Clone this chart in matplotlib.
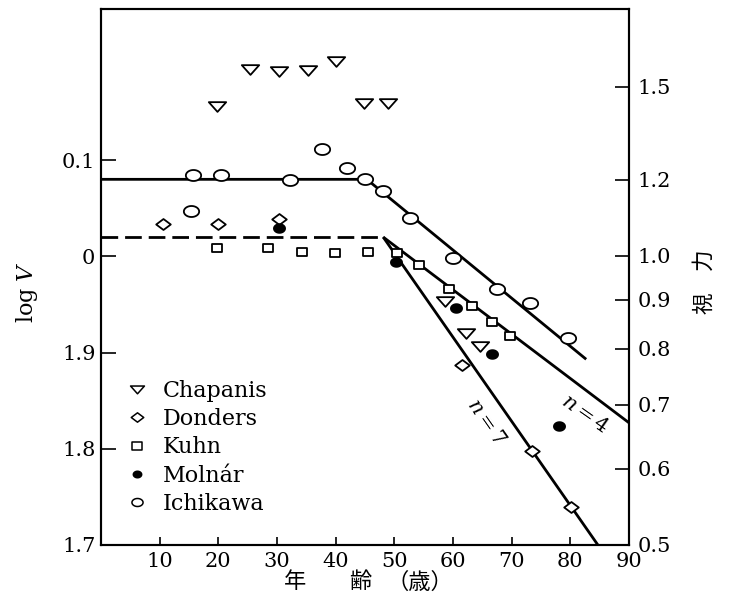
import numpy as np
import matplotlib
matplotlib.use("Agg")
import matplotlib.pyplot as plt
from matplotlib.path import Path
from matplotlib.lines import Line2D

plt.rcParams['font.family'] = ['DejaVu Serif']
plt.rcParams['mathtext.fontset'] = 'dejavuserif'

# Measured visual acuity (log V) against age for each study
chapanis_age = [19.8, 25.4, 30.3, 35.3, 40.1, 44.8, 48.9, 58.6, 62.2, 64.6]
chapanis_logv = [0.156, 0.195, 0.193, 0.194, 0.203, 0.159, 0.159, -0.046, -0.080, -0.093]
donders_age = [10.6, 19.9, 30.3, 61.5, 73.5, 80.1]
donders_logv = [0.034, 0.034, 0.039, -0.113, -0.202, -0.261]
kuhn_age = [19.8, 28.5, 34.3, 39.9, 45.5, 50.5, 54.2, 59.3, 63.2, 66.6, 69.7]
kuhn_logv = [0.009, 0.009, 0.004, 0.003, 0.004, 0.003, -0.009, -0.034, -0.052, -0.068, -0.083]
molnar_age = [30.3, 50.3, 60.5, 66.6, 78.1]
molnar_logv = [0.029, -0.006, -0.054, -0.101, -0.176]
ichikawa_age = [15.3, 15.7, 20.5, 32.2, 37.7, 41.9, 45.0, 48.1, 52.7, 60.0, 67.5, 73.1, 79.6]
ichikawa_logv = [0.047, 0.085, 0.084, 0.079, 0.111, 0.092, 0.080, 0.068, 0.040, -0.002, -0.034,
                 -0.048, -0.085]

# Fitted broken lines (age, log V)
ichikawa_fit_age = [0, 45.3, 82.7]
ichikawa_fit_logv = [0.080, 0.080, -0.107]
plateau_age = [0, 48.1]
plateau_logv = [0.020, 0.020]
n4_age = [48.1, 90]
n4_logv = [0.020, -0.173]
n7_age = [48.1, 84.7]
n7_logv = [0.020, -0.300]

# Axis ticks
age_ticks = [10, 20, 30, 40, 50, 60, 70, 80, 90]
age_labels = ["10", "20", "30", "40", "50", "60", "70", "80", "90"]
logv_ticks = [-0.3, -0.2, -0.1, 0.0, 0.1]
logv_labels = ["1.7", "1.8", "1.9", "0", "0.1"]
acuity_ticks = [0.5, 0.6, 0.7, 0.8, 0.9, 1.0, 1.2, 1.5]
acuity_labels = ["0.5", "0.6", "0.7", "0.8", "0.9", "1.0", "1.2", "1.5"]

series_names = ["Chapanis", "Donders", "Kuhn", "Molnár", "Ichikawa"]


def closed_marker(verts):
    verts = np.asarray(verts, dtype=float)
    return Path(np.vstack([verts, verts[:1]]), closed=True)


theta = np.linspace(0, 2 * np.pi, 64, endpoint=False)
tri_down = closed_marker([(-1, 0.5), (1, 0.5), (0, -0.62)])
diamond = closed_marker([(-1, 0), (0, 0.75), (1, 0), (0, -0.75)])
square = closed_marker([(-1, -0.82), (1, -0.82), (1, 0.82), (-1, 0.82)])
oval = closed_marker(np.column_stack([np.cos(theta), 0.72 * np.sin(theta)]))
dot = closed_marker(np.column_stack([np.cos(theta), 0.78 * np.sin(theta)]))

styles = [
    dict(marker=tri_down, ms=12.5, mfc='white'),
    dict(marker=diamond, ms=10.5, mfc='white'),
    dict(marker=square, ms=7.5, mfc='white'),
    dict(marker=dot, ms=8.0, mfc='black'),
    dict(marker=oval, ms=11.0, mfc='white'),
]
legend_sizes = [10.0, 9.0, 6.5, 6.0, 8.0]

W, H = 733, 601
fig = plt.figure(figsize=(W / 100, H / 100), dpi=100)
ax = fig.add_axes([101 / W, 1 - 545 / H, (629 - 101) / W, (545 - 9) / H])
ax.set_xlim(0, 90)
ax.set_ylim(-0.3, 0.257)

line_kw = dict(color='black', lw=2.0, solid_capstyle='butt', zorder=2)
ax.plot(ichikawa_fit_age, ichikawa_fit_logv, **line_kw)
ax.plot(plateau_age, plateau_logv, ls=(0, (6, 2.5)), **line_kw)
ax.plot(n4_age, n4_logv, **line_kw)
ax.plot(n7_age, n7_logv, **line_kw)

data = [(chapanis_age, chapanis_logv), (donders_age, donders_logv), (kuhn_age, kuhn_logv),
        (molnar_age, molnar_logv), (ichikawa_age, ichikawa_logv)]
for (age, logv), st in zip(data, styles):
    ax.plot(age, logv, ls='none', mec='black', mew=1.3, zorder=3, clip_on=False, **st)

ax.text(82.5, -0.164, "$n=4$", rotation=-35, ha='center', va='center', fontsize=15)
ax.text(65.6, -0.172, "$n=7$", rotation=-55, ha='center', va='center', fontsize=15)

for sp in ax.spines.values():
    sp.set_linewidth(1.5)

ax.set_xticks(age_ticks)
ax.set_xticklabels(age_labels)
ax.set_yticks(logv_ticks)
ax.set_yticklabels(logv_labels)
ax.tick_params(axis='x', direction='in', length=6, width=1.2, labelsize=15, pad=5)
ax.tick_params(axis='y', direction='in', length=11, width=1.2, labelsize=15, pad=4)

ax2 = ax.twinx()
ax2.set_ylim(ax.get_ylim())
ax2.set_yticks(np.log10(acuity_ticks))
ax2.set_yticklabels(acuity_labels)
ax2.tick_params(axis='y', direction='in', length=10, width=1.2, labelsize=15, pad=6)
for sp in ax2.spines.values():
    sp.set_linewidth(1.5)

handles = [Line2D([], [], ls='none', mec='black', mew=1.1,
                  **{**st, 'ms': s}) for st, s in zip(styles, legend_sizes)]
ax.legend(handles, series_names, loc='upper left',
          bbox_to_anchor=(127 / W, 1 - 380 / H), bbox_transform=fig.transFigure,
          frameon=False, fontsize=16, handlelength=0.9, handletextpad=0.7,
          labelspacing=0.28, borderpad=0, borderaxespad=0)

fig.text(27 / W, 1 - 292 / H, "log $V$", rotation=90, ha='center', va='center', fontsize=16)
cjk = ['Noto Sans CJK JP', 'DejaVu Sans']
fig.text(705 / W, 1 - 282 / H, "視　力", rotation=90, ha='center', va='center',
         fontsize=15.5, family=cjk)
for ch, xc in [("年", 295), ("齢", 360), ("（歳）", 420)]:
    fig.text(xc / W, 1 - 582 / H, ch, ha='center', va='center', fontsize=16, family=cjk)

fig.savefig("out.png", dpi=100, facecolor='white')
